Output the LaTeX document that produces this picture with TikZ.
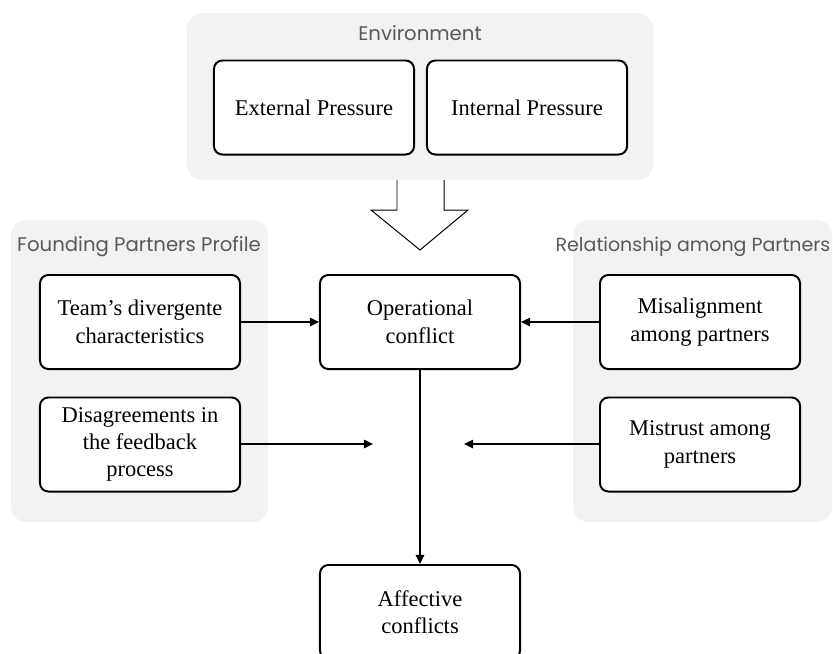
\documentclass[tikz,border=0pt]{standalone}
\usepackage{fontspec}
\setmainfont{Liberation Serif}
\newfontfamily\panelfont{Poppins}
\usetikzlibrary{arrows.meta,positioning}
\definecolor{panelgray}{HTML}{F2F2F2}
\definecolor{labelgray}{HTML}{595959}

\begin{document}
\begin{tikzpicture}[x=0.025cm,y=-0.025cm,
    box/.style={draw, line width=1.4pt, rounded corners=6pt, fill=white,
      minimum width=5cm, minimum height=2.35cm, align=center, inner sep=2pt,
      font=\fontsize{16}{19.5}\selectfont},
    panel/.style={fill=panelgray, rounded corners=11pt},
    paneltitle/.style={font=\panelfont\fontsize{14}{16}\selectfont, text=labelgray},
    link/.style={line width=1.1pt, -{Triangle[length=6.5pt,width=6pt]}}]
    \useasboundingbox (0,0) rectangle (833,653);

    % grey panels
    \fill[panel] (187,13) rectangle (653,180);
    \fill[panel] (11,220) rectangle (268,522);
    \fill[panel] (573,220) rectangle (832,522);
    \node[paneltitle] (envtitle) at (420,33) {Environment};
    \node[paneltitle] (foundtitle) at (139,247) {Founding Partners Profile};
    \node[paneltitle, font=\panelfont\fontsize{13.5}{16}\selectfont, anchor=east, inner xsep=1pt]
      (reltitle) at (832,247) {Relationship among Partners};

    % block arrow out of the environment
    \draw[line width=0.7pt, fill=white] (397,180) -- (397,210) -- (371,210)
      -- (420,250) -- (468,210) -- (444,210) -- (444,180);

    \node[box] (extpress) at (314,107.5) {External Pressure};
    \node[box] (intpress) at (527,107.5) {Internal Pressure};
    \node[box] (teamchar) at (140,322) {Team's divergente\\characteristics};
    \node[box] (disagree) at (140,444.5) {Disagreements in\\the feedback\\process};
    \node[box] (operconf) at (420,322) {Operational\\conflict};
    \node[box] (misalign) at (700,322) {Misalignment\\among partners};
    \node[box] (mistrust) at (700,444.5) {Mistrust among\\partners};
    \node[box] (affconf) at (420,612) {Affective\\conflicts};

    \coordinate (lefttip) at (373,444);
    \coordinate (righttip) at (464,444);

    \draw[link] (teamchar) -- (operconf);
    \draw[link] (misalign) -- (operconf);
    \draw[link] (disagree.east |- lefttip) -- (lefttip);
    \draw[link] (mistrust.west |- righttip) -- (righttip);
    \draw[link] (operconf) -- (affconf);
  \end{tikzpicture}
\end{document}
